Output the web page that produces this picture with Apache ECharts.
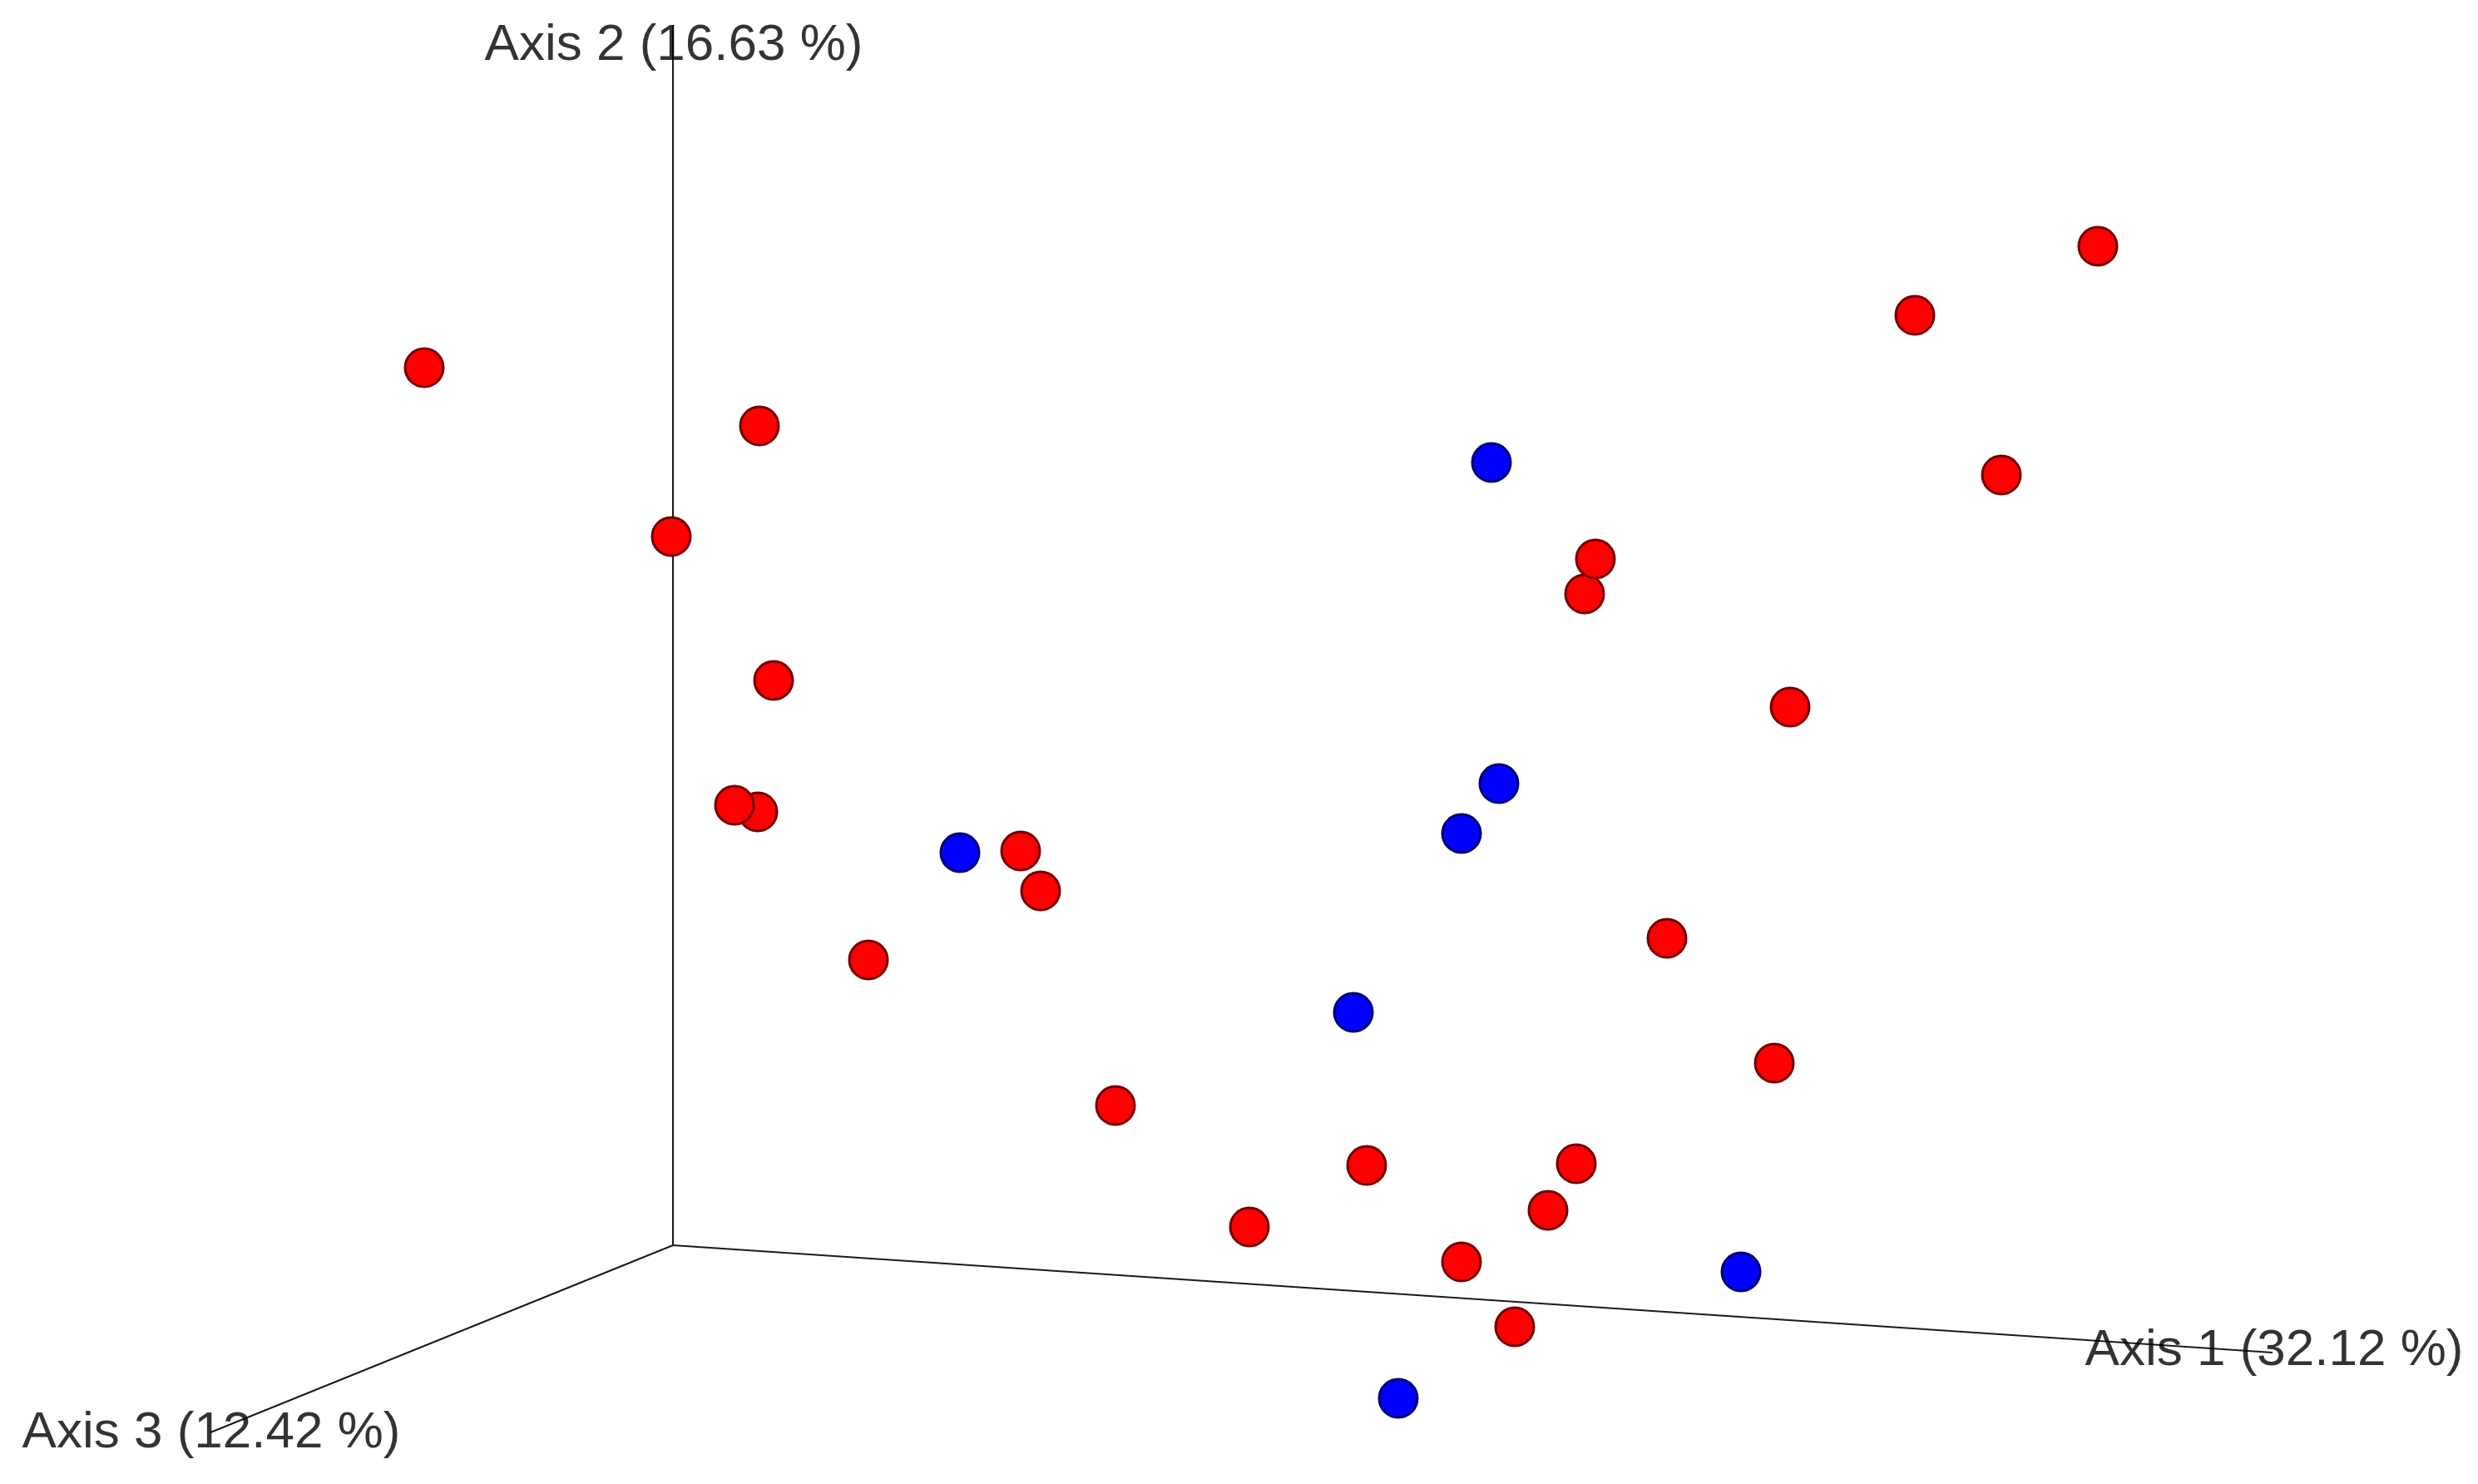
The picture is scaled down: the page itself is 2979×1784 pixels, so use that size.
<!DOCTYPE html>
<html>
<head>
<meta charset="utf-8">
<script src="https://cdn.jsdelivr.net/npm/echarts@6/dist/echarts.min.js"></script>
<style>
  html, body { margin: 0; padding: 0; background: #fff; }
  #chart { width: 2979px; height: 1784px; }
</style>
</head>
<body>
<div id="chart"></div>
<script>
// projected ordination coordinates (screen plane, origin at the axes' origin)
const redPoints = [
  [-299, 1055], [104, 985], [-2, 852], [121, 679], [102, 521], [74, 529],
  [418, 474], [442, 426], [235, 343], [532, 168], [693, 22], [834, 96],
  [948, -20], [1012, -98], [1052, 42], [1086, 98], [1195, 369], [1324, 219],
  [1343, 647], [1096, 783], [1109, 825], [1493, 1118], [1713, 1201], [1597, 926]
]
const bluePoints = [
  [984, 941], [993, 555], [948, 495], [345, 472], [818, 280], [1284, -32], [872, -184]
]
const axisNames = ['Axis 1 (32.12 %)', 'Axis 2 (16.63 %)', 'Axis 3 (12.42 %)']
const axisEnds = [[1923, -129], [0, 1467], [-556, -225]]
const axisLabelAt = [[1925, -127], [1, 1442], [-555, -226]]
const origin = [0, 0]

const chart = echarts.init(document.getElementById('chart'))

const axisSeries = axisEnds.map(function(end, i) {
  return {
    name: 'axis' + (i + 1),
    type: 'line',
    data: [origin, end],
    symbol: 'none',
    silent: true,
    z: 1,
    lineStyle: { color: '#1a1a1a', width: 2 }
  }
})

const pointStyle = function(fill, border) {
  return {
    type: 'scatter',
    symbol: 'circle',
    symbolSize: 46,
    z: 3,
    itemStyle: { color: fill, borderColor: border, borderWidth: 3, opacity: 1 }
  }
}

chart.setOption({
  animation: false,
  backgroundColor: '#ffffff',
  grid: { left: 0, right: 0, top: 0, bottom: 0 },
  xAxis: { type: 'value', min: -809, max: 2170, show: false },
  yAxis: { type: 'value', min: -287, max: 1497, show: false },
  series: axisSeries.concat([
    Object.assign(pointStyle('#ff0000', '#720000'), { name: 'red', data: redPoints }),
    Object.assign(pointStyle('#0000ff', '#00006e'), { name: 'blue', data: bluePoints }),
    {
      name: 'axisNames',
      type: 'scatter',
      symbolSize: 0,
      z: 2,
      silent: true,
      data: axisLabelAt.map(function(p, i) {
        return { value: p, name: axisNames[i] }
      }),
      label: {
        show: true,
        position: 'inside',
        formatter: '{b}',
        fontFamily: 'Liberation Sans, Arial, sans-serif',
        fontSize: 62,
        color: '#000000',
        textBorderWidth: 0,
        textBorderColor: 'transparent'
      }
    }
  ])
})
</script>
</body>
</html>
